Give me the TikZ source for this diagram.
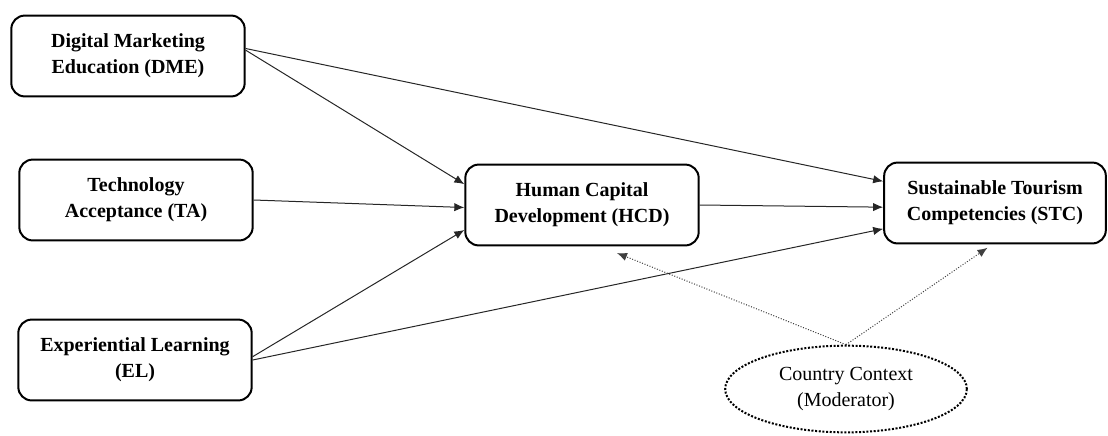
\documentclass[tikz,border=0pt]{standalone}
\usepackage{fontspec}
\setmainfont{Liberation Serif}
\usetikzlibrary{arrows.meta}
\usetikzlibrary{shapes,positioning}
\tikzset{>={Latex[length=6pt,width=5pt]}}

\begin{document}
\begin{tikzpicture}[x=0.6pt,y=-0.6pt,
    factor/.style={draw,line width=1.2pt,rounded corners=8pt,minimum width=140pt,
      minimum height=48.5pt,align=center,font=\fontsize{12}{15.5}\selectfont\bfseries},
    moderator/.style={draw,ellipse,densely dotted,line width=1.2pt,minimum width=145pt,
      minimum height=52pt,align=center,font=\fontsize{12}{15.5}\selectfont},
    link/.style={->,line width=0.6pt,draw=black!85},
    modlink/.style={->,densely dotted,line width=0.6pt,draw=black!75}]
    \useasboundingbox (0,0) rectangle (1108,435);

    \node (dme) [factor] at (128,56) {Digital Marketing\\Education (DME)};
    \node (ta) [factor] at (136,200) {Technology\\Acceptance (TA)};
    \node (el) [factor] at (135,360) {Experiential Learning\\(EL)};
    \node (hcd) [factor] at (582,205) {Human Capital\\Development (HCD)};
    \node (stc) [factor,minimum width=133pt] at (995,203) {Sustainable Tourism\\Competencies (STC)};
    \node (cc) [moderator] at (846,389) {Country Context\\(Moderator)};

    \draw[link] ([yshift=3.5pt]dme.east) -- ([yshift=12.5pt]hcd.west);
    \draw[link] ([yshift=4.5pt]dme.east) -- ([yshift=13pt]stc.west);
    \draw[link] (ta.east) -- ([yshift=-1.5pt]hcd.west);
    \draw[link] ([yshift=2pt]el.east) -- ([yshift=-15pt]hcd.west);
    \draw[link] (el.east) -- ([yshift=-15.5pt]stc.west);
    \draw[link] (hcd.east) -- ([yshift=-2.5pt]stc.west);

    \draw[modlink] (cc.north) -- ([xshift=21pt,yshift=-4pt]hcd.south);
    \draw[modlink] (cc.north) -- ([xshift=-4.5pt,yshift=-2pt]stc.south);
  \end{tikzpicture}
\end{document}
